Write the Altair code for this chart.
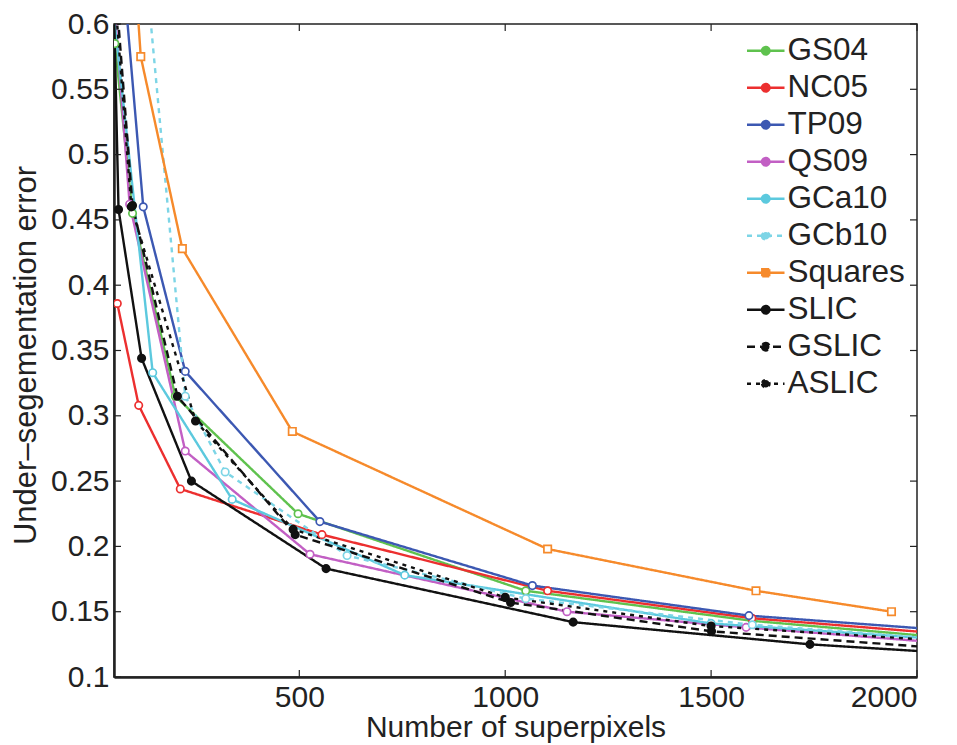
import altair as alt
import pandas as pd

methods = ["GS04", "NC05", "TP09", "QS09", "GCa10", "GCb10", "Squares", "SLIC", "GSLIC", "ASLIC"]
colors = ["#5fc24e", "#ec2f2f", "#3c58b2", "#c25fc4", "#5cc9de", "#7dd5e6", "#f68a2b", "#111111", "#111111", "#111111"]
dashes = [[1, 0], [1, 0], [1, 0], [1, 0], [1, 0], [5, 5], [1, 0], [1, 0], [8, 5], [4, 5]]
widths = [2.4, 2.4, 2.4, 2.4, 2.4, 2.6, 2.4, 4.0, 3.8, 3.8]
fills = ["white"] * 7 + ["#111111"] * 3
shapes = ["circle"] * 6 + ["square"] + ["circle"] * 3
msizes = [55, 55, 55, 55, 55, 55, 60, 90, 85, 30]

gs04_x = [52, 95, 199, 497, 1050, 1600, 2150]
gs04_y = [0.585, 0.455, 0.315, 0.225, 0.166, 0.143, 0.128]
nc05_x = [58, 110, 211, 555, 1103, 1599, 2150]
nc05_y = [0.386, 0.308, 0.244, 0.209, 0.166, 0.145, 0.131]
tp09_x = [70, 121, 223, 550, 1066, 1592, 2150]
tp09_y = [0.648, 0.460, 0.334, 0.219, 0.170, 0.147, 0.134]
qs09_x = [45, 88, 223, 526, 1150, 1585, 2150]
qs09_y = [0.64, 0.462, 0.273, 0.194, 0.150, 0.138, 0.124]
gca10_x = [45, 144, 337, 756, 1500, 2150]
gca10_y = [0.62, 0.333, 0.236, 0.178, 0.141, 0.127]
gcb10_x = [125, 223, 320, 616, 1050, 1600, 2150]
gcb10_y = [0.650, 0.315, 0.257, 0.193, 0.160, 0.140, 0.127]
squares_x = [100, 115, 216, 483, 1103, 1609, 1938]
squares_y = [0.645, 0.575, 0.428, 0.288, 0.198, 0.166, 0.150]
slic_x = [40, 61, 117, 238, 565, 1165, 1740, 2150]
slic_y = [0.75, 0.458, 0.344, 0.250, 0.183, 0.142, 0.125, 0.117]
gslic_x = [45, 95, 204, 490, 1013, 1501, 2150]
gslic_y = [0.665, 0.461, 0.315, 0.209, 0.157, 0.135, 0.120]
aslic_x = [48, 92, 248, 485, 1000, 1500, 2150]
aslic_y = [0.64, 0.46, 0.296, 0.213, 0.161, 0.139, 0.126]

x_ticks = [500, 1000, 1500, 2000]
y_ticks = [0.1, 0.15, 0.2, 0.25, 0.3, 0.35, 0.4, 0.45, 0.5, 0.55, 0.6]

series = {
    "GS04": (gs04_x, gs04_y), "NC05": (nc05_x, nc05_y), "TP09": (tp09_x, tp09_y),
    "QS09": (qs09_x, qs09_y), "GCa10": (gca10_x, gca10_y), "GCb10": (gcb10_x, gcb10_y),
    "Squares": (squares_x, squares_y), "SLIC": (slic_x, slic_y),
    "GSLIC": (gslic_x, gslic_y), "ASLIC": (aslic_x, aslic_y),
}
rows = []
for m, (xs_, ys_) in series.items():
    for i, (a, b) in enumerate(zip(xs_, ys_)):
        rows.append({"method": m, "n": a, "err": b, "i": i})
df = pd.DataFrame(rows)

W, H = 803, 653
FONT = "Liberation Sans"

xs = alt.Scale(domain=[50, 2000], nice=False, zero=False)
ys = alt.Scale(domain=[0.1, 0.6], nice=False, zero=False)

circle_path = "M-1.5,0L1.5,0M-0.3,0A0.3,0.3 0 1,0 0.3,0A0.3,0.3 0 1,0 -0.3,0Z"
square_path = "M-1.5,0L1.5,0M-0.28,-0.28L0.28,-0.28L0.28,0.28L-0.28,0.28Z"

legend = alt.Legend(
    title=None, orient="none", legendX=636, legendY=11,
    symbolType=alt.ExprRef(expr="datum.value === 'Squares' ? '" + square_path + "' : '" + circle_path + "'"),
    symbolFillColor=alt.ExprRef(expr="scale('color', datum.value)"),
    symbolSize=625, symbolStrokeWidth=2,
    labelFont=FONT, labelFontSize=31.5, labelColor="#222222", labelOffset=6,
    rowPadding=4, labelLimit=300,
)

color = alt.Color("method:N", scale=alt.Scale(domain=methods, range=colors), legend=legend)
dash = alt.StrokeDash("method:N", scale=alt.Scale(domain=methods, range=dashes), legend=legend)

base = alt.Chart(df)

lines = base.mark_line(clip=True).encode(
    x=alt.X("n:Q", scale=xs, axis=alt.Axis(values=x_ticks, title="Number of superpixels", titleFontSize=30)),
    y=alt.Y("err:Q", scale=ys, axis=alt.Axis(values=y_ticks, title="Under–segementation error")),
    color=color,
    strokeDash=dash,
    strokeWidth=alt.StrokeWidth("method:N", scale=alt.Scale(domain=methods, range=widths), legend=None),
    order="i:Q",
)

points = base.transform_calculate(m2="datum.method").mark_point(
    clip=True, strokeWidth=1.7, opacity=1
).encode(
    x=alt.X("n:Q", scale=xs),
    y=alt.Y("err:Q", scale=ys),
    stroke=alt.Stroke("m2:N", scale=alt.Scale(domain=methods, range=colors), legend=None),
    fill=alt.Fill("m2:N", scale=alt.Scale(domain=methods, range=fills), legend=None),
    shape=alt.Shape("m2:N", scale=alt.Scale(domain=methods, range=shapes), legend=None),
    size=alt.Size("m2:N", scale=alt.Scale(domain=methods, range=msizes), legend=None),
)

ydf = pd.DataFrame({"v": y_ticks})
xdf = pd.DataFrame({"v": x_ticks})
tl = alt.Chart(ydf).mark_rule(color="#222222", strokeWidth=1.2).encode(
    y=alt.Y("v:Q", scale=ys), x=alt.value(0), x2=alt.value(7))
tr = alt.Chart(ydf).mark_rule(color="#222222", strokeWidth=1.2).encode(
    y=alt.Y("v:Q", scale=ys), x=alt.value(W - 7), x2=alt.value(W))
tb = alt.Chart(xdf).mark_rule(color="#222222", strokeWidth=1.2).encode(
    x=alt.X("v:Q", scale=xs), y=alt.value(H - 7), y2=alt.value(H))
tt = alt.Chart(xdf).mark_rule(color="#222222", strokeWidth=1.2).encode(
    x=alt.X("v:Q", scale=xs), y=alt.value(0), y2=alt.value(7))

chart = alt.layer(lines, points, tl, tr, tb, tt).resolve_scale(
    fill="independent", shape="independent", size="independent"
).properties(
    width=W, height=H,
    autosize=alt.AutoSizeParams(type="none"),
    padding={"left": 106, "top": 16, "right": 30, "bottom": 68},
).configure_view(
    stroke="#222222", strokeWidth=1.5
).configure_axis(
    labelFont=FONT, titleFont=FONT, labelFontSize=30, titleFontSize=31,
    labelColor="#222222", titleColor="#222222", titleFontWeight="normal",
    grid=False, ticks=False, domainColor="#222222", domainWidth=2.5,
    labelPadding=5, labelExpr="'' + round(datum.value * 100) / 100",
).configure_axisY(titlePadding=8, titleY=331).configure_axisX(titlePadding=0)

chart.save("out.html", embed_options={"renderer": "svg", "actions": False})
